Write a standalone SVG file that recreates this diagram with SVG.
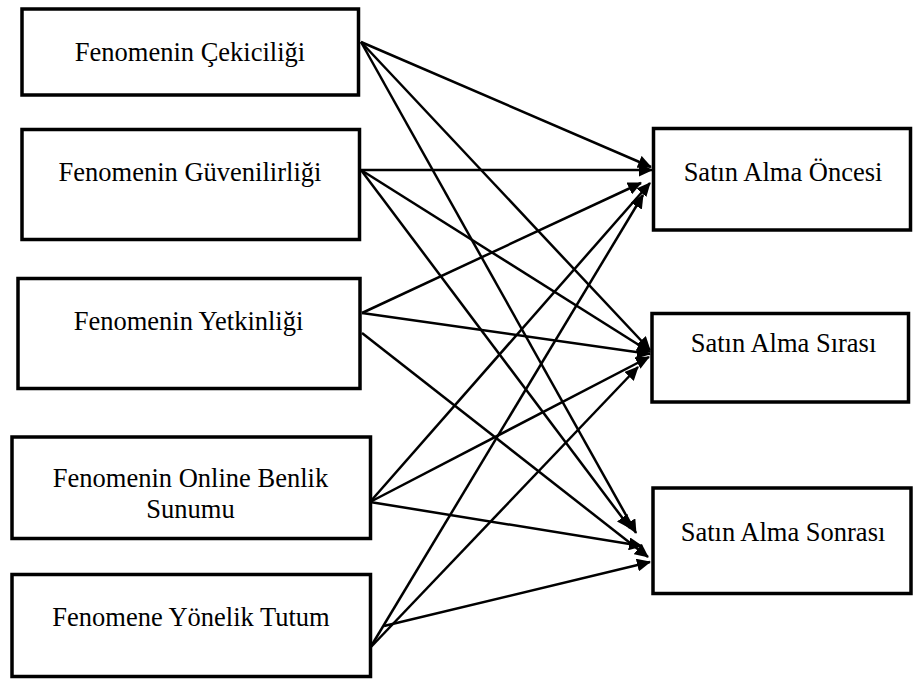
<svg xmlns="http://www.w3.org/2000/svg" width="913" height="679" viewBox="0 0 913 679">
  <style>
    .box { fill: #ffffff; stroke: #000000; stroke-width: 3.5; }
    .label { font-family: "Liberation Serif", "Times New Roman", serif; font-size: 26.5px; fill: #000000; text-anchor: middle; }
    .edge { stroke: #000000; stroke-width: 2.5; fill: none; marker-end: url(#arrow); }
  </style>
  <defs>
    <marker id="arrow" markerUnits="userSpaceOnUse" markerWidth="15" markerHeight="13" refX="13" refY="6.5" orient="auto">
      <path d="M0,0 L14,6.5 L0,13 Z" fill="#000000"/>
    </marker>
  </defs>
  <rect width="913" height="679" fill="#ffffff"/>

  <!-- source factors -->
  <g id="cekicilik">
    <rect class="box" x="22" y="9" width="336.5" height="86"/>
    <text class="label" x="190" y="61">Fenomenin Çekiciliği</text>
  </g>
  <g id="guvenilirlik">
    <rect class="box" x="22" y="129.5" width="337.5" height="110"/>
    <text class="label" x="190" y="181">Fenomenin Güvenilirliği</text>
  </g>
  <g id="yetkinlik">
    <rect class="box" x="18" y="278.5" width="342" height="110"/>
    <text class="label" x="188.5" y="330">Fenomenin Yetkinliği</text>
  </g>
  <g id="online-benlik">
    <rect class="box" x="12" y="437" width="358.5" height="101.5"/>
    <text class="label" x="190.5" y="487">Fenomenin Online Benlik</text>
    <text class="label" x="190.5" y="518">Sunumu</text>
  </g>
  <g id="tutum">
    <rect class="box" x="12" y="574.5" width="358.5" height="102"/>
    <text class="label" x="191" y="626">Fenomene Yönelik Tutum</text>
  </g>

  <!-- purchase stages -->
  <g id="oncesi">
    <rect class="box" x="653.5" y="128.5" width="257" height="101.5"/>
    <text class="label" x="783" y="181">Satın Alma Öncesi</text>
  </g>
  <g id="sirasi">
    <rect class="box" x="652" y="313.5" width="256.5" height="88.5"/>
    <text class="label" x="783.5" y="352">Satın Alma Sırası</text>
  </g>
  <g id="sonrasi">
    <rect class="box" x="653" y="488" width="258" height="105.5"/>
    <text class="label" x="783" y="541">Satın Alma Sonrası</text>
  </g>

  <!-- paths from each factor to each stage -->
  <g id="connectors">
    <line class="edge" x1="361" y1="42" x2="651" y2="167"/>
    <line class="edge" x1="361" y1="42" x2="650" y2="350"/>
    <line class="edge" x1="361" y1="42" x2="636" y2="533"/>

    <line class="edge" x1="361" y1="170" x2="652" y2="170"/>
    <line class="edge" x1="361" y1="170" x2="650" y2="352"/>
    <line class="edge" x1="361" y1="170" x2="630" y2="528"/>

    <line class="edge" x1="362" y1="313" x2="641" y2="183"/>
    <line class="edge" x1="362" y1="313" x2="650" y2="354"/>
    <line class="edge" x1="362" y1="333" x2="648" y2="557"/>

    <line class="edge" x1="370" y1="502" x2="650" y2="183"/>
    <line class="edge" x1="370" y1="502" x2="649" y2="357"/>
    <line class="edge" x1="370" y1="502" x2="642" y2="546"/>

    <line class="edge" x1="370" y1="648" x2="643" y2="195"/>
    <line class="edge" x1="370" y1="648" x2="638" y2="367"/>
    <line class="edge" x1="384" y1="626" x2="650" y2="562"/>
  </g>
</svg>
